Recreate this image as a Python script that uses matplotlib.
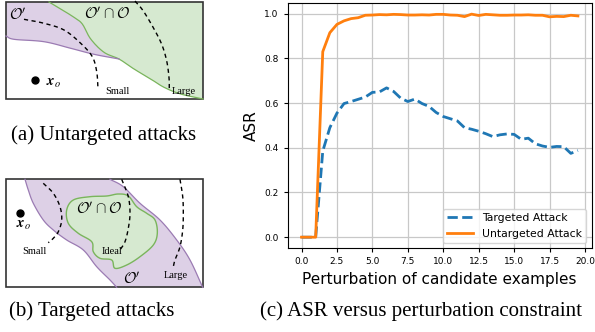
import numpy as np
import matplotlib
matplotlib.use("Agg")
import matplotlib.pyplot as plt
from matplotlib.patches import Polygon, Rectangle

# ---- chart data (c) ----
pert = np.arange(0, 20, 0.5)
targeted = [0.0, 0.0, 0.0, 0.385, 0.49, 0.555, 0.598, 0.607, 0.617, 0.627,
            0.648, 0.650, 0.668, 0.652, 0.622, 0.607, 0.618, 0.598, 0.585, 0.558,
            0.540, 0.530, 0.520, 0.490, 0.483, 0.474, 0.463, 0.450, 0.458, 0.462,
            0.460, 0.438, 0.443, 0.418, 0.408, 0.402, 0.406, 0.405, 0.375, 0.388]
untargeted = [0.0, 0.0, 0.0, 0.83, 0.915, 0.952, 0.968, 0.978, 0.982, 0.993,
              0.994, 0.996, 0.995, 0.997, 0.996, 0.994, 0.994, 0.995, 0.994, 0.997,
              0.997, 0.994, 0.993, 0.987, 0.998, 0.992, 0.997, 0.995, 0.993, 0.993,
              0.994, 0.994, 0.995, 0.993, 0.993, 0.986, 0.988, 0.987, 0.993, 0.990]

# ---- schematic outlines (pixel coords of the figure) ----
a_box = (6, 2, 197, 97)
a_green = [(49, 2), (60.7, 9), (74, 17.3), (82.3, 24), (90.7, 39), (104, 52.3), (119, 59),
           (134, 69), (150.7, 79), (164, 87.3), (180.7, 94), (203, 99)]
a_purple = [(6, 36), (14, 39.3), (44, 41.7), (70.7, 48.3), (94, 54.3), (119, 59)]
a_small = [(24, 19.3), (44, 23.3), (64, 30), (80.7, 43.3), (92.3, 56.7), (96.7, 71.7), (98, 88.3)]
a_large = [(135, 1), (143.3, 11), (153.3, 27.7), (161.7, 44.3), (166.7, 61), (169, 77.7), (169.3, 90)]

b_box = (6, 179.3, 196.7, 108)
b_left = [(25, 179.3), (28.3, 190), (33.3, 203.3), (43.3, 220), (53.3, 230), (66.7, 240),
          (83.3, 250), (96.7, 266.7), (110, 280), (116.7, 287.3)]
b_right = [(110, 179.3), (123.3, 186.7), (140, 203.3), (160, 220), (176.7, 240),
           (190, 260), (202.7, 287.3)]
b_blob = [(66.7, 210), (73.3, 200), (90, 196.7), (106.7, 196), (118.3, 194), (128.3, 196),
          (136.7, 206.7), (146.7, 213.3), (155, 220), (157.3, 233.3), (153.3, 245),
          (140, 256.7), (126.7, 265), (115, 268.3), (111.7, 260), (100, 258.3),
          (93.3, 251.7), (91.7, 241.7), (78.3, 233.3), (68.3, 223.3)]
b_small = [(43.3, 183.3), (53.3, 193.3), (60, 206.7), (61.7, 220), (58.3, 231.7), (53.3, 238.3), (48.3, 242.7)]
b_ideal = [(121.7, 179.3), (128.3, 196.7), (130, 213.3), (128.3, 228.3), (125, 241.7), (120, 250)]
b_large = [(180, 179.3), (182.7, 196.7), (183.3, 213.3), (182.7, 230), (180, 246.7), (175, 260), (173.3, 266.7)]


def smooth(pts, n=12, closed=False):
    p = np.asarray(pts, float)
    if closed:
        p = np.vstack([p[-1], p, p[0], p[1]])
    else:
        p = np.vstack([2 * p[0] - p[1], p, 2 * p[-1] - p[-2]])
    out = []
    for i in range(1, len(p) - 2):
        p0, p1, p2, p3 = p[i - 1], p[i], p[i + 1], p[i + 2]
        for t in np.linspace(0, 1, n, endpoint=False):
            out.append(0.5 * ((2 * p1) + (-p0 + p2) * t + (2 * p0 - 5 * p1 + 4 * p2 - p3) * t ** 2
                              + (-p0 + 3 * p1 - 3 * p2 + p3) * t ** 3))
    out.append(p[-2])
    return np.array(out)


fig = plt.figure(figsize=(5.95, 3.32), dpi=100)

# schematic layer in pixel coordinates
ax0 = fig.add_axes([0, 0, 1, 1])
ax0.set_xlim(0, 595)
ax0.set_ylim(332, 0)
ax0.axis("off")

purple_fc, purple_ec = "#ddd0e6", "#9b7bb3"
green_fc, green_ec = "#d6e9d0", "#7ab55c"
serif = "Liberation Serif"
plt.rcParams["mathtext.fontset"] = "stix"
cal = dict(fontsize=11, va="center", math_fontfamily="cm")

# (a)
x0, y0, w, h = a_box
g = smooth(a_green)
pl = smooth(a_purple)
purple_poly = np.vstack([[(x0, y0)], g, pl[::-1]])
ax0.add_patch(Polygon(purple_poly, closed=True, fc=purple_fc, ec="none"))
ax0.add_patch(Polygon(np.vstack([g, [(x0 + w, y0 + h), (x0 + w, y0)]]), closed=True, fc=green_fc, ec="none"))
ax0.plot(g[:, 0], g[:, 1], color=green_ec, lw=0.9)
ax0.plot(pl[:, 0], pl[:, 1], color=purple_ec, lw=0.9)
for arc in (a_small, a_large):
    s = smooth(arc)
    ax0.plot(s[:, 0], s[:, 1], color="black", lw=1.0, dashes=(3, 2.5))
ax0.add_patch(Rectangle((x0, y0), w, h, fill=False, ec="#333333", lw=1.2))
ax0.text(9, 15, r"$\mathcal{O}'$", **cal)
ax0.text(84, 14, r"$\mathcal{O}'\cap\mathcal{O}$", **cal)
ax0.plot(35, 80, "o", color="black", ms=5)
ax0.text(46, 82, r"$\mathbfit{x}_o$", fontsize=10.5, va="center")
ax0.text(105, 91, "Small", fontsize=7.5, family=serif, va="center")
ax0.text(172, 91, "Large", fontsize=7.5, family=serif, va="center")

# (b)
x0, y0, w, h = b_box
l = smooth(b_left)
r = smooth(b_right)
ax0.add_patch(Polygon(np.vstack([l, [(x0 + w, y0 + h)], r[::-1]]), closed=True, fc=purple_fc, ec="none"))
ax0.plot(l[:, 0], l[:, 1], color=purple_ec, lw=0.9)
ax0.plot(r[:, 0], r[:, 1], color=purple_ec, lw=0.9)
bl = smooth(b_blob, closed=True)
ax0.add_patch(Polygon(bl, closed=True, fc=green_fc, ec=green_ec, lw=1.0))
for arc in (b_small, b_ideal, b_large):
    s = smooth(arc)
    ax0.plot(s[:, 0], s[:, 1], color="black", lw=1.0, dashes=(3, 2.5))
ax0.add_patch(Rectangle((x0, y0), w, h, fill=False, ec="#333333", lw=1.2))
ax0.text(76, 209, r"$\mathcal{O}'\cap\mathcal{O}$", **cal)
ax0.text(123, 279, r"$\mathcal{O}'$", **cal)
ax0.plot(20, 213, "o", color="black", ms=5)
ax0.text(16, 224, r"$\mathbfit{x}_o$", fontsize=10.5, va="center")
ax0.text(22, 252, "Small", fontsize=7.5, family=serif, va="center")
ax0.text(112, 252, "Ideal", fontsize=7.5, family=serif, va="center", ha="center")
ax0.text(164, 275, "Large", fontsize=7.5, family=serif, va="center")

# (c) line chart
ax = fig.add_axes([0.4835, 0.252, 0.511, 0.739])
ax.plot(pert, targeted, "--", color="#1f77b4", lw=2, label="Targeted Attack")
ax.plot(pert, untargeted, "-", color="#ff7f0e", lw=2, label="Untargeted Attack")
ax.grid(True, color="#c8c8c8", lw=0.9)
ax.set_xticks(np.arange(0, 20.1, 2.5))
ax.set_yticks(np.arange(0, 1.01, 0.2))
ax.tick_params(labelsize=6.5, length=3)
ax.set_xlabel("Perturbation of candidate examples", fontsize=11)
ax.set_ylabel("ASR", fontsize=11)
ax.legend(loc="lower right", fontsize=7.8, handlelength=2.4)

# captions
fig.text(104, 135, "(a) Untargeted attacks", fontsize=15, family=serif,
         ha="center", va="center", transform=ax0.transData)
fig.text(92, 311, "(b) Targeted attacks", fontsize=15, family=serif,
         ha="center", va="center", transform=ax0.transData)
fig.text(421, 311, "(c) ASR versus perturbation constraint", fontsize=15, family=serif,
         ha="center", va="center", transform=ax0.transData)

fig.savefig("out.png", dpi=100)
